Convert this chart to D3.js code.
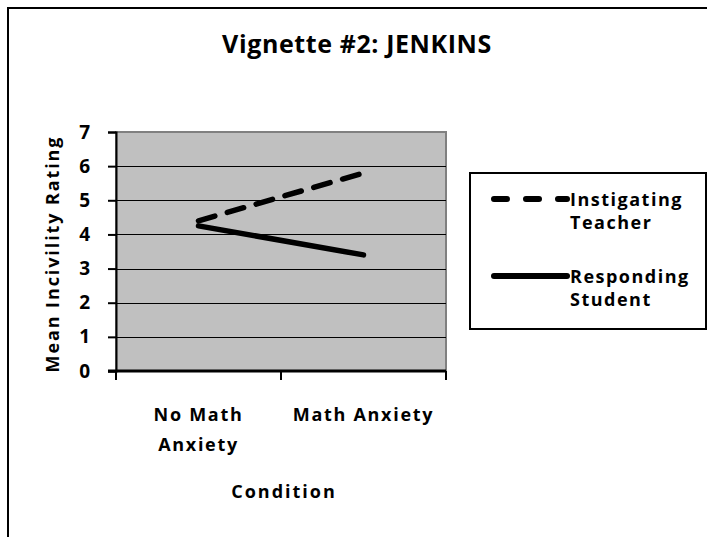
<!DOCTYPE html>
<html>
<head>
<meta charset="utf-8">
<script src="https://cdn.jsdelivr.net/npm/d3@7"></script>
<style>
  body { margin: 0; background: #fff; }
  text { font-family: "Open Sans", Lato, sans-serif; font-weight: bold; fill: #000; }
</style>
</head>
<body>
<svg width="707" height="537"></svg>
<script>
// chart values
var categories = ["No Math Anxiety", "Math Anxiety"];
var categoryLines = [["No Math", "Anxiety"], ["Math Anxiety"]];
var teacher = [4.4, 5.8];
var student = [4.25, 3.4];
var yTicks = [0, 1, 2, 3, 4, 5, 6, 7];
var seriesNames = [["Instigating", "Teacher"], ["Responding", "Student"]];

var svg = d3.select("svg"),
    width = +svg.attr("width"),
    height = +svg.attr("height");

var plot = { left: 116, right: 446, top: 132, bottom: 371 };

// outer chart frame (only top and left show in the crop)
svg.append("path")
    .attr("d", "M8,537V8H707")
    .attr("fill", "none")
    .attr("stroke", "#000")
    .attr("stroke-width", 2);

svg.append("text")
    .attr("x", 357).attr("y", 53)
    .attr("text-anchor", "middle")
    .style("font-size", "25px")
    .style("letter-spacing", "0.6px")
    .text("Vignette #2: JENKINS");

var x = d3.scaleBand().domain(categories).range([plot.left, plot.right]);
var y = d3.scaleLinear().domain([0, 7]).range([plot.bottom, plot.top]);

// plot background
svg.append("rect")
    .attr("x", plot.left).attr("y", plot.top)
    .attr("width", plot.right - plot.left)
    .attr("height", plot.bottom - plot.top)
    .attr("fill", "#c0c0c0")
    .attr("stroke", "#808080")
    .attr("stroke-width", 2);

// gridlines
svg.append("g")
    .selectAll("line")
    .data(yTicks.filter(function(d) { return d > 0 && d < 7; }))
    .enter().append("line")
    .attr("x1", plot.left).attr("x2", plot.right)
    .attr("y1", function(d) { return Math.round(y(d)) + 0.5; })
    .attr("y2", function(d) { return Math.round(y(d)) + 0.5; })
    .attr("stroke", "#000")
    .attr("stroke-width", 1);

// y axis
var yAxis = svg.append("g")
    .attr("transform", "translate(" + plot.left + ",0)")
    .call(d3.axisLeft(y).tickValues(yTicks).tickFormat(d3.format("d")).tickSize(8).tickPadding(18));
yAxis.select(".domain").attr("stroke-width", 2);
yAxis.selectAll(".tick line").attr("stroke-width", 2);
yAxis.selectAll("text")
    .style("font-size", "19px")
    .style("font-family", "'Open Sans', sans-serif");

// x axis: ticks at category boundaries
var bounds = [plot.left, plot.left + x.bandwidth(), plot.right];
var xAxis = svg.append("g");
xAxis.append("line")
    .attr("x1", plot.left - 8).attr("x2", plot.right)
    .attr("y1", plot.bottom).attr("y2", plot.bottom)
    .attr("stroke", "#000").attr("stroke-width", 3);
xAxis.selectAll(".xtick")
    .data(bounds)
    .enter().append("line")
    .attr("x1", function(d) { return d; }).attr("x2", function(d) { return d; })
    .attr("y1", plot.bottom).attr("y2", plot.bottom + 9)
    .attr("stroke", "#000").attr("stroke-width", 2);

xAxis.selectAll(".xlabel")
    .data(categories)
    .enter().append("text")
    .attr("text-anchor", "middle")
    .attr("x", function(d) { return x(d) + x.bandwidth() / 2; })
    .attr("y", 421)
    .style("font-size", "18px")
    .style("letter-spacing", "1.7px")
    .each(function(d, i) {
      var t = d3.select(this);
      categoryLines[i].forEach(function(line, j) {
        t.append("tspan")
          .attr("x", x(d) + x.bandwidth() / 2)
          .attr("dy", j === 0 ? 0 : 30)
          .text(line);
      });
    });

// axis titles
svg.append("text")
    .attr("x", 284).attr("y", 498)
    .attr("text-anchor", "middle")
    .style("font-size", "18px")
    .style("letter-spacing", "2px")
    .text("Condition");

svg.append("text")
    .attr("transform", "translate(59,254) rotate(-90)")
    .attr("text-anchor", "middle")
    .style("font-size", "18px")
    .style("letter-spacing", "1.9px")
    .text("Mean Incivility Rating");

// series lines
var line = d3.line()
    .x(function(d, i) { return x(categories[i]) + x.bandwidth() / 2; })
    .y(function(d) { return y(d); });

svg.append("path")
    .datum(teacher)
    .attr("d", line)
    .attr("fill", "none")
    .attr("stroke", "#000")
    .attr("stroke-width", 5.5)
    .attr("stroke-linecap", "round")
    .attr("stroke-dasharray", "17,13");

svg.append("path")
    .datum(student)
    .attr("d", line)
    .attr("fill", "none")
    .attr("stroke", "#000")
    .attr("stroke-width", 5.5)
    .attr("stroke-linecap", "round");

// legend
svg.append("rect")
    .attr("x", 470).attr("y", 173)
    .attr("width", 236).attr("height", 156)
    .attr("fill", "#fff")
    .attr("stroke", "#000")
    .attr("stroke-width", 2);

var legend = svg.append("g")
    .selectAll("g")
    .data(seriesNames)
    .enter().append("g")
    .attr("transform", function(d, i) { return "translate(0," + (199 + i * 77) + ")"; });

legend.append("line")
    .attr("x1", 494).attr("x2", 567)
    .attr("y1", 0).attr("y2", 0)
    .attr("stroke", "#000")
    .attr("stroke-width", 6)
    .attr("stroke-linecap", "round")
    .attr("stroke-dasharray", function(d, i) { return i === 0 ? "13,19" : null; });

legend.append("text")
    .attr("x", 570).attr("y", 7)
    .style("font-size", "18px")
    .style("letter-spacing", "1.5px")
    .each(function(d) {
      var t = d3.select(this);
      d.forEach(function(s, j) {
        t.append("tspan").attr("x", 570).attr("dy", j === 0 ? 0 : 23).text(s);
      });
    });
</script>
</body>
</html>
